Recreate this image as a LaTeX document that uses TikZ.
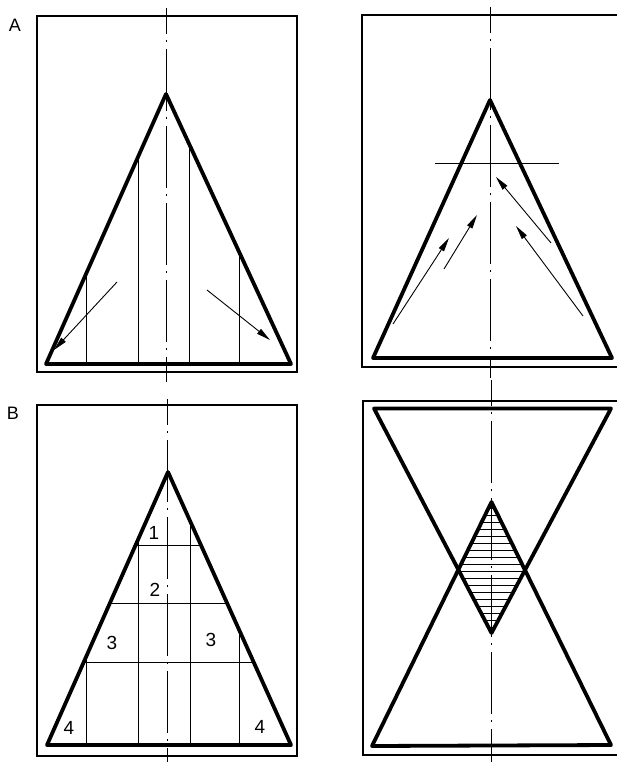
\documentclass[tikz,border=0pt]{standalone}
\usepackage{fontspec}
\setmainfont{Liberation Sans}
\usetikzlibrary{arrows.meta}
\begin{document}
\begin{tikzpicture}[x=1pt,y=-1pt,
  frame/.style={line width=1.7pt},
  outline/.style={line width=3.8pt,line join=round},
  rule/.style={line width=0.9pt},
  hatch/.style={line width=0.9pt},
  axisline/.style={line width=0.9pt,dash pattern=on 62pt off 6pt on 2pt off 7pt,dash phase=36pt},
  flow/.style={line width=0.9pt,-{Triangle[length=14pt,width=6pt]}},
  tag/.style={font=\fontsize{18}{18}\selectfont},
  num/.style={font=\fontsize{19}{19}\selectfont}]
\useasboundingbox (0,0) rectangle (616,762);

% A, left
\node[tag] (labA) at (15,25) {A};
\draw[frame] (37,16) rectangle (297,372);
\draw[axisline] (166,8) -- (166,382);
\draw[rule] (86,274) -- (86,364);
\draw[rule] (138,157) -- (138,364);
\draw[rule] (189,144) -- (189,364);
\draw[rule] (239,252) -- (239,364);
\draw[outline] (166,94) -- (46,364) -- (291,364) -- cycle;
\draw[flow] (117,282) -- (54,350);
\draw[flow] (207,290) -- (270,340);

% A, right
\draw[frame] (362,15) rectangle (640,367);
\draw[axisline] (490,7) -- (490,378);
\draw[outline] (490,100) -- (373,358) -- (612,358) -- cycle;
\draw[rule] (435,163) -- (559,163);
\draw[flow] (393,324) -- (449,238);
\draw[flow] (444,269) -- (477,215);
\draw[flow] (551,243) -- (496,177);
\draw[flow] (583,316) -- (516,226);

% B, left
\node[tag] (labB) at (13,413) {B};
\draw[frame] (37,405) rectangle (297,756);
\draw[axisline] (167,399) -- (167,770);
\draw[rule] (135.6,545) -- (200.9,545);
\draw[rule] (109.9,603) -- (227,603);
\draw[rule] (83.8,662) -- (253.6,662);
\draw[rule] (86,657) -- (86,745);
\draw[rule] (138,540) -- (138,745);
\draw[rule] (190,521) -- (190,745);
\draw[rule] (239,630) -- (239,745);
\draw[outline] (168,472) -- (47,745) -- (291,745) -- cycle;
\node[num] (zone1) at (154,533) {1};
\node[num] (zone2) at (155,590) {2};
\node[num] (zone3l) at (112,643) {3};
\node[num] (zone3r) at (211,640) {3};
\node[num] (zone4l) at (69,728) {4};
\node[num] (zone4r) at (260,727) {4};

% B, right
\draw[frame] (363,401) rectangle (640,755);
\draw[axisline] (491,380) -- (491,770);
\begin{scope}
  \clip (374,408.5) -- (611,408.5) -- (491.5,633) -- cycle;
  \clip (372,746) -- (611,745) -- (491.5,502) -- cycle;
  \foreach \y in {508,515,...,627}
    \draw[hatch] (440,\y) -- (540,\y);
\end{scope}
\draw[outline] (374,408.5) -- (611,408.5) -- (491.5,633) -- cycle;
\draw[outline] (372,746) -- (611,745) -- (491.5,502) -- cycle;
\end{tikzpicture}
\end{document}
